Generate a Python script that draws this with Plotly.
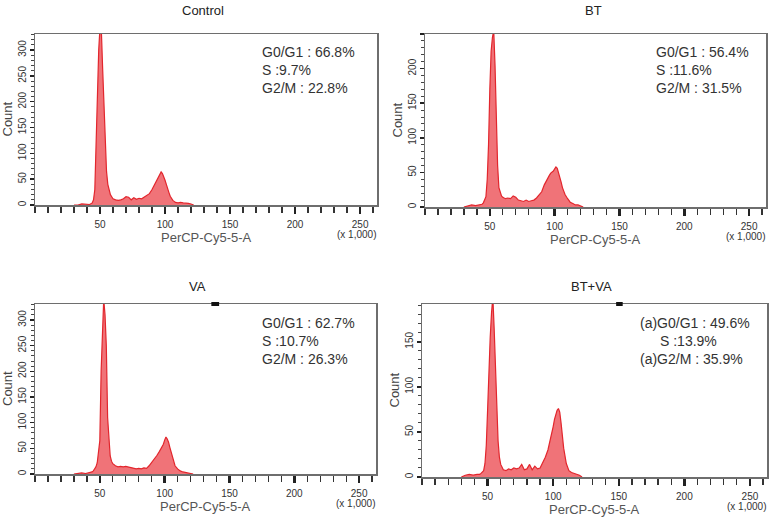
import plotly.graph_objects as go

W, H = 772, 522

# Bin centres (x 1,000 PerCP-Cy5-5-A)
BINS = [30, 33, 36, 39, 42, 44, 45, 46, 47, 48, 49, 50, 51, 52, 53, 54, 55, 56, 57, 58, 59, 60,
        62, 64, 66, 68, 70, 72, 74, 76, 78, 80, 82, 84, 86, 88, 90, 92, 94, 96,
        97, 98, 99, 100, 101, 102, 103, 104, 105, 106, 107, 108,
        110, 112, 114, 116, 118, 120, 122]

CONTROL = [0, 0, 2, 1, 1, 4, 10, 30, 130, 240, 300, 345, 340, 265, 200, 140, 65, 40, 28, 20, 16, 12,
           10, 9, 10, 12, 16, 15, 10, 14, 11, 13, 12, 15, 18, 22, 30, 40, 52, 60,
           64, 61, 56, 48, 40, 30, 24, 17, 12, 9, 7, 5,
           4, 5, 4, 4, 3, 2, 0]

BT = [0, 2, 3, 2, 3, 4, 6, 10, 15, 40, 90, 170, 225, 245, 255, 205, 130, 60, 28, 20, 16, 14,
      12, 13, 12, 16, 14, 10, 9, 8, 10, 8, 9, 10, 13, 18, 22, 32, 40, 46,
      49, 50, 52, 55, 58, 56, 50, 42, 36, 28, 22, 18,
      12, 7, 5, 3, 3, 1, 0]

VA = [0, 1, 2, 1, 2, 4, 6, 10, 14, 22, 40, 65, 200, 300, 340, 310, 250, 110, 60, 35, 25, 20,
      16, 14, 15, 14, 15, 14, 13, 12, 10, 11, 10, 12, 11, 16, 22, 28, 36, 44,
      49, 52, 58, 66, 72, 68, 62, 52, 42, 32, 22, 16,
      10, 6, 4, 3, 2, 1, 0]

BT_VA = [0, 2, 3, 2, 3, 3, 4, 5, 7, 15, 35, 74, 120, 155, 182, 200, 165, 120, 70, 40, 22, 14,
         8, 7, 9, 8, 10, 9, 10, 14, 8, 9, 14, 8, 12, 9, 10, 16, 22, 30,
         36, 42, 50, 56, 64, 70, 74, 76, 72, 60, 44, 32,
         15, 7, 5, 4, 3, 2, 0]

TITLES = ["Control", "BT", "VA", "BT+VA"]
SERIES = [CONTROL, BT, VA, BT_VA]
Y_MAX = [331, 250, 331, 192]
Y_LABELS = [[0, 50, 100, 150, 200, 250, 300],
            [0, 50, 100, 150, 200],
            [0, 50, 100, 150, 200, 250, 300],
            [0, 50, 100, 150]]
Y_MAJOR = [[0, 50, 100, 150, 200, 250, 300],
           [0, 50, 100, 150, 200, 250],
           [0, 50, 100, 150, 200, 250, 300],
           [0, 50, 100, 150]]
X_TICKS = [50, 100, 150, 200, 250]
STATS = [
    ["G0/G1 : 66.8%", "S :9.7%", "G2/M : 22.8%"],
    ["G0/G1 : 56.4%", "S :11.6%", "G2/M : 31.5%"],
    ["G0/G1 : 62.7%", "S :10.7%", "G2/M : 26.3%"],
    ["(a)G0/G1 : 49.6%", "S :13.9%", "(a)G2/M : 35.9%"],
]

# Layout geometry in window pixels: (left, right, top, bottom) of each plot frame
FRAMES = [(35, 377, 34, 205), (425, 766, 34, 207), (35, 376, 304, 474), (422, 767, 304, 477)]
TITLE_POS = [(203, 10), (593, 10), (197, 286), (591, 286)]
STAT_POS = [[(260, 52), (260, 70), (260, 88)],
            [(654, 52), (654, 70), (654, 88)],
            [(260, 323), (260, 341), (260, 359)],
            [(638, 323), (658, 341), (638, 359)]]

RED_LINE = "#E2262D"
RED_FILL = "rgba(236,80,86,0.80)"
TEXT = "#333333"


def fx(p):
    return p / W


def fy(p):
    return 1 - p / H


fig = go.Figure()
annotations = []
shapes = []

for i in range(4):
    n = "" if i == 0 else str(i + 1)
    l, r, t, b = FRAMES[i]
    fig.add_trace(go.Scatter(
        x=BINS, y=SERIES[i], mode="lines",
        line=dict(color=RED_LINE, width=1.2),
        fill="tozeroy", fillcolor=RED_FILL,
        xaxis="x" + n, yaxis="y" + n, hoverinfo="skip", showlegend=False))

    fig.layout["xaxis" + n] = dict(
        domain=[fx(l), fx(r)], range=[0, 263], anchor="y" + n,
        showline=True, mirror=True, linecolor="#6e6e6e", linewidth=1.5,
        showgrid=False, zeroline=False,
        ticks="outside", tickvals=X_TICKS, ticktext=[str(v) for v in X_TICKS],
        ticklen=7, tickwidth=2.5, tickcolor="#222",
        minor=dict(tick0=0, dtick=10, ticks="outside", ticklen=6, tickwidth=1.3,
                   tickcolor="#333", showgrid=False),
        tickfont=dict(family="Liberation Sans Narrow, Liberation Sans, Arial", size=10, color=TEXT),
        ticklabelstandoff=2,
    )
    fig.layout["yaxis" + n] = dict(
        domain=[fy(b), fy(t)], range=[0, Y_MAX[i]], anchor="x" + n,
        showline=True, mirror=True, linecolor="#6e6e6e", linewidth=1.5,
        showgrid=False, zeroline=False,
        ticks="outside", tickvals=Y_MAJOR[i],
        ticktext=[str(v) if v in Y_LABELS[i] else "" for v in Y_MAJOR[i]],
        ticklen=4, tickwidth=1.5, tickcolor="#222",
        minor=dict(tick0=0, dtick=10, ticks="outside", ticklen=3, tickwidth=1,
                   tickcolor="#444", showgrid=False),
        tickangle=-90,
        tickfont=dict(family="Liberation Sans Narrow, Liberation Sans, Arial", size=10, color=TEXT),
        ticklabelstandoff=0,
    )

    # panel title
    tx, ty = TITLE_POS[i]
    annotations.append(dict(text=TITLES[i], x=fx(tx), y=fy(ty), xref="paper", yref="paper",
                            showarrow=False, xanchor="center", yanchor="middle",
                            font=dict(family="Liberation Sans, Arial", size=13, color="#222")))
    # stats text
    for s, (sx, sy) in zip(STATS[i], STAT_POS[i]):
        annotations.append(dict(text=s, x=fx(sx), y=fy(sy), xref="paper", yref="paper",
                                showarrow=False, xanchor="left", yanchor="middle",
                                font=dict(family="Liberation Sans, Arial", size=14, color=TEXT)))
    # x axis title
    annotations.append(dict(text="PerCP-Cy5-5-A", x=fx((l + r) / 2), y=fy(b + 32),
                            xref="paper", yref="paper", showarrow=False,
                            xanchor="center", yanchor="middle",
                            font=dict(family="Liberation Sans, Arial", size=13, color="#555")))
    # (x 1,000)
    annotations.append(dict(text="(x 1,000)", x=fx(r + 1), y=fy(b + 29),
                            xref="paper", yref="paper", showarrow=False,
                            xanchor="right", yanchor="middle",
                            font=dict(family="Liberation Sans Narrow, Liberation Sans, Arial",
                                      size=10, color=TEXT)))
    # y axis title
    annotations.append(dict(text="Count", x=fx(l - 28), y=fy((t + b) / 2),
                            xref="paper", yref="paper", showarrow=False, textangle=-90,
                            xanchor="center", yanchor="middle",
                            font=dict(family="Liberation Sans, Arial", size=13, color="#444")))

# small gate markers on the top frame of the lower panels
shapes.append(dict(type="line", xref="x3", yref="y3 domain", x0=136, x1=142, y0=1, y1=1,
                   line=dict(color="#111", width=4)))
shapes.append(dict(type="line", xref="x4", yref="y4 domain", x0=148, x1=153, y0=1, y1=1,
                   line=dict(color="#111", width=4)))

fig.update_layout(
    width=W, height=H, margin=dict(l=0, r=0, t=0, b=0),
    paper_bgcolor="white", plot_bgcolor="white",
    annotations=annotations, shapes=shapes, showlegend=False,
)

# remove the browser's default 8px page margin so the figure fills the window exactly
fig.write_html("out.html",
               config={"displayModeBar": False, "staticPlot": True},
               post_script="document.body.style.margin='0';document.body.style.overflow='hidden';")
